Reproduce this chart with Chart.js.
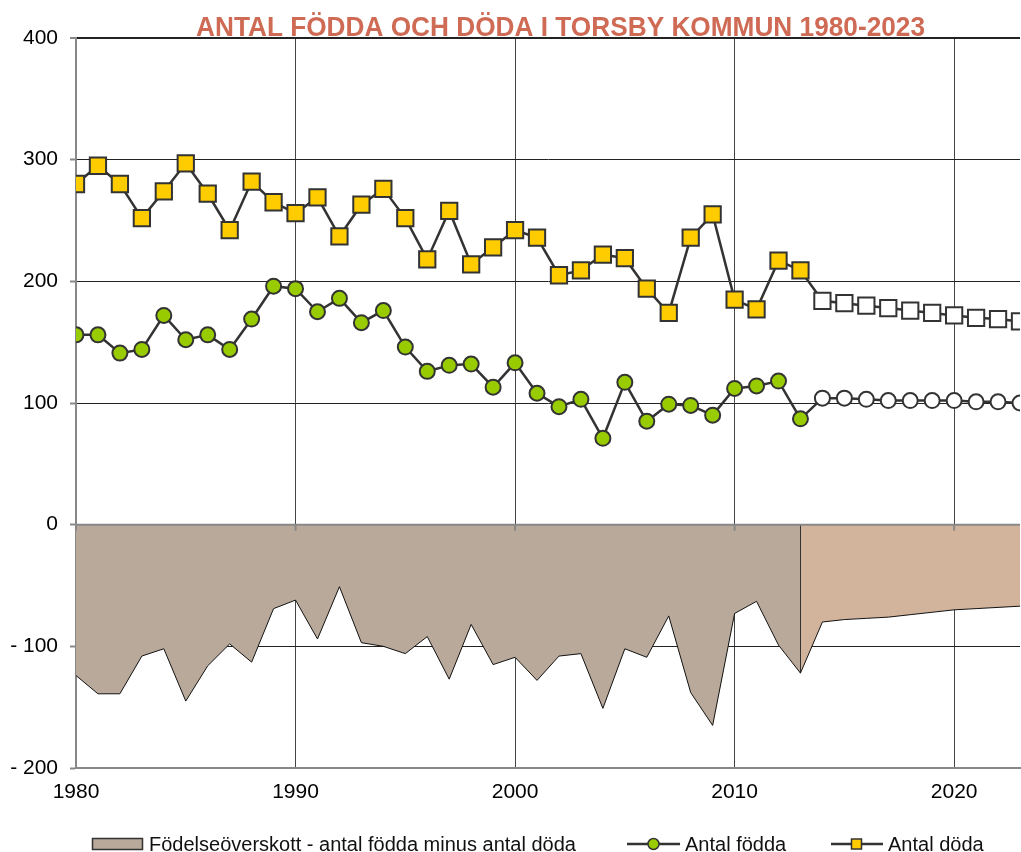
<!DOCTYPE html>
<html><head><meta charset="utf-8">
<script src="https://cdn.jsdelivr.net/npm/chart.js@4/dist/chart.umd.min.js"></script>
<style>html,body{margin:0;padding:0;background:#fff;overflow:hidden;}canvas{display:block;}</style>
</head><body>
<canvas id="c" width="1021" height="852"></canvas>
<script>
// ---- data ----
const titleText = 'ANTAL FÖDDA OCH DÖDA I TORSBY KOMMUN 1980-2023';
const years = [1980,1981,1982,1983,1984,1985,1986,1987,1988,1989,
               1990,1991,1992,1993,1994,1995,1996,1997,1998,1999,
               2000,2001,2002,2003,2004,2005,2006,2007,2008,2009,
               2010,2011,2012,2013];
const fodda = [156,156,141,144,172,152,156,144,169,196,
               194,175,186,166,176,146,126,131,132,113,
               133,108,97,103,71,117,85,99,98,90,
               112,114,118,87];
const doda  = [280,295,280,252,274,297,272,242,282,265,
               256,269,237,263,276,252,218,258,214,228,
               242,236,205,209,222,219,194,174,236,255,
               185,177,217,209];
const overskott = [-124,-139,-139,-108,-102,-145,-116,-98,-113,-69,
                   -62,-94,-51,-97,-100,-106,-92,-127,-82,-115,
                   -109,-128,-108,-106,-151,-102,-109,-75,-138,-165,
                   -73,-63,-99,-122];
const progYears = [2014,2015,2016,2017,2018,2019,2020,2021,2022,2023];
const foddaProg = [104,104,103,102,102,102,102,101,101,100];
const dodaProg  = [184,182,180,178,176,174,172,170,169,167];
const overskottProg = [-80,-78,-77,-76,-74,-72,-70,-69,-68,-67];
const xTicks = [1980,1990,2000,2010,2020];
const yTicks = [-200,-100,0,100,200,300,400];
const labels = ['Födelseöverskott - antal födda minus antal döda','Antal födda','Antal döda'];

// ---- styles ----
const FONT = "'Liberation Sans', Arial, sans-serif";
const C_AREA = '#B9A99A', C_AREA_P = '#D2B49D';
const C_GREEN = '#99CC00', C_YELLOW = '#FFCC00', C_LINE = '#333333';

const pts = (xs, ys) => xs.map((x, i) => ({x: x, y: ys[i]}));
const lastY = years[years.length - 1];

const titlePlugin = {
  id: 'titleP',
  afterDraw(chart) {
    const ctx = chart.ctx;
    ctx.save();
    ctx.font = "bold 28px 'Liberation Sans Narrow', 'Liberation Sans', Arial, sans-serif";
    const w = ctx.measureText(titleText).width;
    const sx = 729 / w;
    ctx.translate(560.5, 36);
    ctx.scale(sx, 1);
    ctx.fillStyle = '#CF6A55';
    ctx.textAlign = 'center';
    ctx.textBaseline = 'alphabetic';
    ctx.fillText(titleText, 0, 0);
    ctx.restore();
  }
};

const zeroPlugin = {
  id: 'zeroP',
  afterDatasetsDraw(chart) {
    const ctx = chart.ctx, a = chart.chartArea;
    const y0 = chart.scales.y.getPixelForValue(0);
    ctx.save();
    ctx.strokeStyle = '#888';
    ctx.lineWidth = 2;
    ctx.beginPath();
    ctx.moveTo(a.left, y0); ctx.lineTo(a.right, y0);
    ctx.stroke();
    xTicks.forEach(t => {
      const x = chart.scales.x.getPixelForValue(t);
      ctx.beginPath(); ctx.moveTo(x, y0); ctx.lineTo(x, y0 + 6); ctx.stroke();
    });
    ctx.restore();
  }
};

const legendPlugin = {
  id: 'legendP',
  afterDraw(chart) {
    const ctx = chart.ctx;
    const yc = 844;
    ctx.save();
    ctx.font = "20px " + FONT;
    ctx.textBaseline = 'middle';
    ctx.textAlign = 'left';
    ctx.fillStyle = C_AREA;
    ctx.fillRect(92.5, 838.5, 50, 11);
    ctx.strokeStyle = '#333'; ctx.lineWidth = 1.5;
    ctx.strokeRect(92.5, 838.5, 50, 11);
    ctx.fillStyle = '#111';
    ctx.fillText(labels[0], 149, yc + 1);
    ctx.strokeStyle = C_LINE; ctx.lineWidth = 2.5;
    ctx.beginPath(); ctx.moveTo(627, yc); ctx.lineTo(680, yc); ctx.stroke();
    ctx.beginPath(); ctx.arc(653.5, yc, 5.5, 0, Math.PI * 2);
    ctx.fillStyle = C_GREEN; ctx.fill(); ctx.lineWidth = 1.5; ctx.stroke();
    ctx.fillStyle = '#111';
    ctx.fillText(labels[1], 685, yc + 1);
    ctx.lineWidth = 2.5;
    ctx.beginPath(); ctx.moveTo(831, yc); ctx.lineTo(883, yc); ctx.stroke();
    ctx.fillStyle = C_YELLOW;
    ctx.fillRect(851.5, yc - 5, 10, 10);
    ctx.lineWidth = 1.5; ctx.strokeRect(851.5, yc - 5, 10, 10);
    ctx.fillStyle = '#111';
    ctx.fillText(labels[2], 888, yc + 1);
    ctx.restore();
  }
};

new Chart(document.getElementById('c'), {
  type: 'line',
  data: {
    datasets: [
      { label: labels[1], data: pts(years, fodda), order: 0,
        borderColor: C_LINE, borderWidth: 2.5, tension: 0,
        pointStyle: 'circle', pointRadius: 7.5, pointBackgroundColor: C_GREEN,
        pointBorderColor: C_LINE, pointBorderWidth: 2 },
      { label: labels[2], data: pts(years, doda), order: 0,
        borderColor: C_LINE, borderWidth: 2.5, tension: 0,
        pointStyle: 'rect', pointRadius: 11.5, pointBackgroundColor: C_YELLOW,
        pointBorderColor: C_LINE, pointBorderWidth: 2 },
      { label: labels[1] + ' prognos', data: [{x: lastY, y: fodda[fodda.length-1]}].concat(pts(progYears, foddaProg)), order: 1,
        borderColor: C_LINE, borderWidth: 2.5, tension: 0,
        pointStyle: 'circle', pointRadius: c => c.dataIndex === 0 ? 0 : 7.5, pointBackgroundColor: '#fff',
        pointBorderColor: C_LINE, pointBorderWidth: 2 },
      { label: labels[2] + ' prognos', data: [{x: lastY, y: doda[doda.length-1]}].concat(pts(progYears, dodaProg)), order: 1,
        borderColor: C_LINE, borderWidth: 2.5, tension: 0,
        pointStyle: 'rect', pointRadius: c => c.dataIndex === 0 ? 0 : 11.5, pointBackgroundColor: '#fff',
        pointBorderColor: C_LINE, pointBorderWidth: 2 },
      { label: labels[0], data: pts(years, overskott), order: 2,
        borderColor: '#111', borderWidth: 1, tension: 0, pointRadius: 0,
        fill: 'origin', backgroundColor: C_AREA },
      { label: labels[0] + ' prognos', data: [{x: lastY, y: 0}, {x: lastY, y: overskott[overskott.length-1]}].concat(pts(progYears, overskottProg)), order: 2,
        borderColor: '#111', borderWidth: 1, tension: 0, pointRadius: 0,
        fill: 'origin', backgroundColor: C_AREA_P }
    ]
  },
  options: {
    responsive: false,
    animation: false,
    events: [],
    layout: { autoPadding: false, padding: { top: 38, right: 1, left: 0, bottom: 0 } },
    plugins: { legend: { display: false }, title: { display: false }, tooltip: { enabled: false } },
    scales: {
      x: {
        type: 'linear', min: 1980, max: 2023,
        afterFit: s => { s.height = 84; s.paddingLeft = 0; s.paddingRight = 0; },
        afterBuildTicks: s => { s.ticks = xTicks.map(v => ({value: v})); },
        ticks: { includeBounds: false, padding: 12, color: '#000',
                 font: { family: FONT, size: 21 }, callback: v => String(v), maxRotation: 0 },
        grid: { color: c => c.tick && c.tick.value === 1980 ? 'transparent' : '#444', lineWidth: 1, drawTicks: false },
        border: { color: '#888', width: 2 }
      },
      y: {
        min: -200, max: 400,
        afterFit: s => { s.width = 76; s.paddingTop = 0; s.paddingBottom = 0; },
        afterBuildTicks: s => { s.ticks = yTicks.map(v => ({value: v})); },
        ticks: { padding: 12, color: '#000', font: { family: FONT, size: 21 },
                 callback: v => v < 0 ? '- ' + Math.abs(v) : String(v) },
        grid: {
          color: c => c.tick.value === 0 ? 'transparent' : (c.tick.value === -200 ? '#888' : '#222'),
          lineWidth: c => c.tick.value === 400 ? 2 : 1,
          tickColor: '#888', tickLength: 6, tickWidth: 2
        },
        border: { color: '#888', width: 2 }
      }
    }
  },
  plugins: [titlePlugin, zeroPlugin, legendPlugin]
});
</script>
</body></html>
